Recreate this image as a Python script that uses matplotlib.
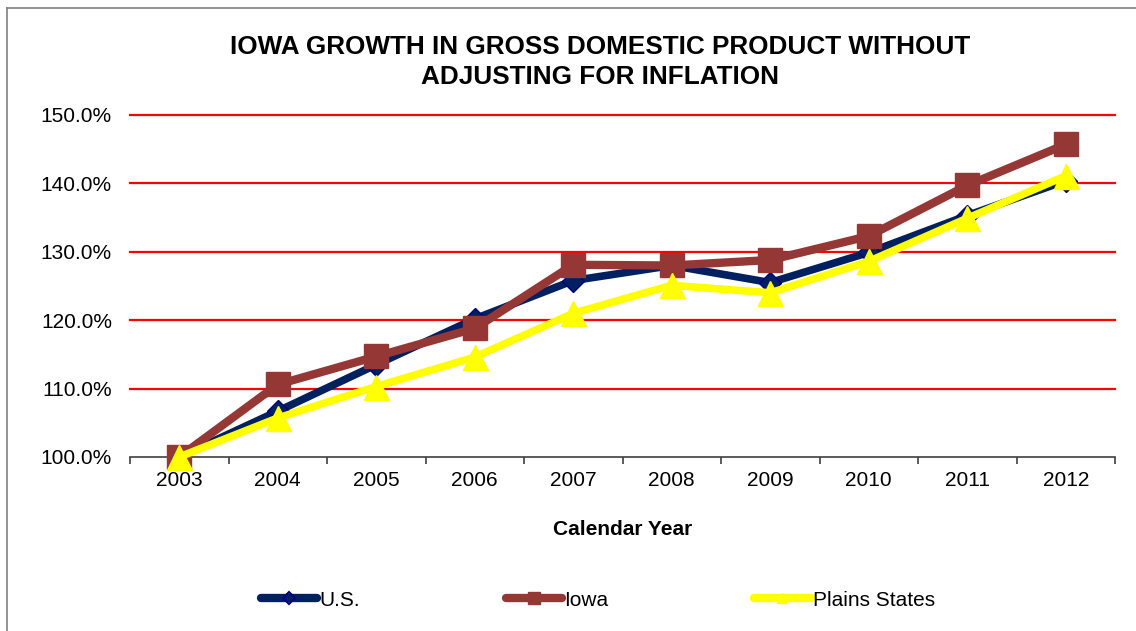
import numpy as np
import matplotlib
matplotlib.use("Agg")
from matplotlib import pyplot as plt
from matplotlib.lines import Line2D

plt.rcParams['font.family'] = ['Liberation Sans', 'DejaVu Sans']

# data (index, 2003 = 100%)
years = ['2003', '2004', '2005', '2006', '2007', '2008', '2009', '2010', '2011', '2012']
us = [100.0, 106.7, 113.5, 120.2, 125.8, 128.0, 125.5, 129.9, 135.3, 140.4]
iowa = [100.0, 110.6, 114.7, 118.8, 128.1, 128.0, 128.8, 132.3, 139.7, 145.7]
plains = [100.0, 105.7, 110.3, 114.6, 121.0, 125.1, 124.0, 128.6, 134.9, 141.1]
yticks = [100, 110, 120, 130, 140, 150]

navy = '#002060'
brown = '#953735'
yellow = '#FFFF00'

fig = plt.figure(figsize=(11.36, 6.31), dpi=100)
ax = fig.add_axes([130/1136, 1-457/631, (1115-130)/1136, (457-115)/631])

x = np.arange(len(years))
ax.plot(x, us, color=navy, lw=5.5, marker='D', ms=11, mfc=navy, mec='#000080',
        label='U.S.', zorder=3, clip_on=False)
ax.plot(x, iowa, color=brown, lw=6, marker='s', ms=17, mfc=brown, mec=brown,
        label='Iowa', zorder=4, clip_on=False)
ax.plot(x, plains, color=yellow, lw=5.5, marker='^', ms=18, mfc=yellow, mec=yellow,
        label='Plains States', zorder=5, clip_on=False)

ax.set_xlim(-0.5, len(years) - 0.5)
ax.set_ylim(100, 150)

# red gridlines
for v in yticks[1:]:
    ax.axhline(v, color='#FF0000', lw=1.6, zorder=1, clip_on=False)

ax.set_yticks(yticks)
ax.set_yticklabels(['%.1f%%' % v for v in yticks])
ax.tick_params(axis='y', length=0, pad=13, labelsize=15)

ax.set_xticks(x)
ax.set_xticklabels(years)
ax.set_xticks(np.arange(-0.5, len(years)), minor=True)
ax.tick_params(axis='x', which='major', length=0, pad=10, labelsize=15)
ax.tick_params(axis='x', which='minor', length=5, width=1.2, color='#404040', direction='out')

for s in ['top', 'right', 'left']:
    ax.spines[s].set_visible(False)
ax.spines['bottom'].set_color('#404040')
ax.spines['bottom'].set_linewidth(1.2)
ax.spines['bottom'].set_zorder(2)

ax.set_xlabel('Calendar Year', fontsize=15, fontweight='bold', labelpad=22)

fig.text(600/1136, 1-62/631, 'IOWA GROWTH IN GROSS DOMESTIC PRODUCT WITHOUT\nADJUSTING FOR INFLATION',
         ha='center', va='center', fontsize=18.8, fontweight='bold', linespacing=1.3)

handles = [
    Line2D([], [], color=navy, lw=6, marker='D', ms=6, mfc='none', mec='#000080', mew=1.5,
           solid_capstyle='round'),
    Line2D([], [], color=brown, lw=6, marker='s', ms=9, mfc=brown, mec=brown,
           solid_capstyle='round'),
    Line2D([], [], color=yellow, lw=6, marker='^', ms=7, mfc=yellow, mec=yellow,
           solid_capstyle='round'),
]
fig.legend(handles, ['U.S.', 'Iowa', 'Plains States'], loc='center',
           bbox_to_anchor=(598/1136, 1-600/631), ncol=3, frameon=False, fontsize=15,
           handlelength=2.7, handletextpad=0.1, columnspacing=7.0, borderpad=0)

# frame lines of the chart area (left and top visible)
fig.add_artist(Line2D([7/1136, 7/1136], [0, 1-8/631], color='#808080', lw=1.2))
fig.add_artist(Line2D([7/1136, 1], [1-8/631, 1-8/631], color='#808080', lw=1.2))

fig.savefig('out.png', dpi=100)
